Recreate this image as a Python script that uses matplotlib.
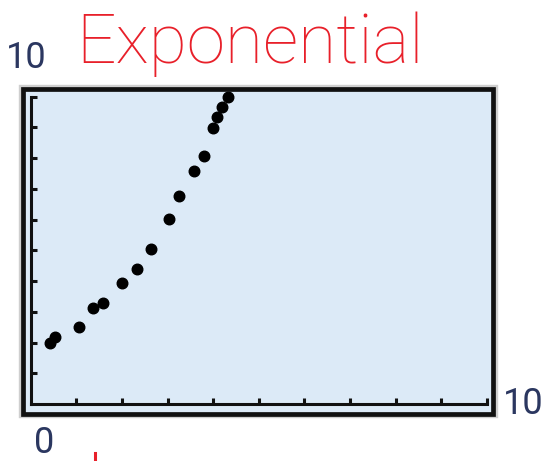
import matplotlib
matplotlib.use('Agg')
import matplotlib.pyplot as plt
from matplotlib.patches import Rectangle
from matplotlib.lines import Line2D
import numpy as np

W, H = 547, 461

x_vals = [0.42, 0.53, 1.06, 1.37, 1.59, 2.01, 2.33, 2.64,
          3.04, 3.26, 3.58, 3.80, 3.99, 4.09, 4.20, 4.33]
y_vals = [1.99, 2.17, 2.50, 3.11, 3.30, 3.93, 4.40, 5.04,
          6.01, 6.78, 7.59, 8.07, 8.99, 9.33, 9.66, 10.0]
x_ticks = list(range(1, 11))
y_ticks = list(range(1, 11))
title = "Exponential"
x_min_label, x_max_label, y_max_label = "0", "10", "10"

bg = '#dceaf7'
label_color = '#2b3760'
label_font = ['Roboto', 'Liberation Sans', 'DejaVu Sans']

fig = plt.figure(figsize=(W / 100, H / 100), dpi=100)

def fx(px):
    return px / W

def fy(py):
    return 1 - py / H

# outer calculator frame, soft grey halo then black edge
halo = Rectangle((fx(21.5), fy(414.5)), fx(494.5) - fx(21.5), fy(88.5) - fy(414.5),
                 transform=fig.transFigure, facecolor='none', edgecolor='#cfcfcf',
                 linewidth=4.6, zorder=0)
fig.add_artist(halo)
frame = Rectangle((fx(22.5), fy(413.5)), fx(493.5) - fx(22.5), fy(89.5) - fy(413.5),
                  transform=fig.transFigure, facecolor=bg, edgecolor='#111111',
                  linewidth=3.4, zorder=0)
fig.add_artist(frame)

ax = fig.add_axes([fx(30.7), fy(404), fx(487) - fx(30.7), fy(96.7) - fy(404)])
ax.set_facecolor('none')
ax.scatter(x_vals, y_vals, s=7.6 ** 2, color='black', zorder=3, clip_on=False)
ax.set_xlim(0, 10)
ax.set_ylim(0, 10)

for s in ['top', 'right']:
    ax.spines[s].set_visible(False)
for s in ['left', 'bottom']:
    ax.spines[s].set_linewidth(2.2)
    ax.spines[s].set_color('#111111')
    ax.spines[s].set_capstyle('projecting')

ax.set_xticks(x_ticks)
ax.set_yticks(y_ticks)
ax.tick_params(direction='in', length=4, width=2.2, color='#111111',
               labelbottom=False, labelleft=False)

# window labels
fig.text(fx(26.7), fy(57.5), y_max_label, ha='center', va='center',
         fontsize=26, color=label_color, family=label_font)
fig.text(fx(523), fy(404), x_max_label, ha='center', va='center',
         fontsize=26, color=label_color, family=label_font)
fig.text(fx(44), fy(442.5), x_min_label, ha='center', va='center',
         fontsize=26, color=label_color, family=label_font)

# red handwritten note
fig.text(fx(250), fy(63), title, ha='center', va='baseline',
         fontsize=50, color='#e8202a', fontweight='light',
         family=['Roboto', 'Liberation Sans', 'DejaVu Sans'])
fig.add_artist(Line2D([fx(95), fx(95)], [fy(453), fy(461)], transform=fig.transFigure,
                      color='#e8202a', linewidth=2.2))

plt.savefig('out.png', dpi=100)
plt.close()
